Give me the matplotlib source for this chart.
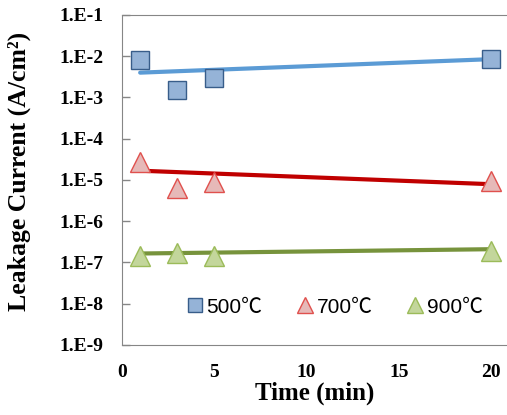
import matplotlib
matplotlib.use("Agg")
import matplotlib.pyplot as plt

t = [1, 3, 5, 20]
i500 = [7.9e-3, 1.5e-3, 2.9e-3, 8.7e-3]
i700 = [2.7e-5, 6.5e-6, 8.7e-6, 9.3e-6]
i900 = [1.45e-7, 1.67e-7, 1.45e-7, 1.9e-7]

# trend line ends (t=1 and t=20)
t_fit = [1, 20]
fit500 = [4.0e-3, 8.5e-3]
fit700 = [1.68e-5, 7.9e-6]
fit900 = [1.65e-7, 2.1e-7]

yticks = [1e-1, 1e-2, 1e-3, 1e-4, 1e-5, 1e-6, 1e-7, 1e-8, 1e-9]
ylabels = ["1.E-1", "1.E-2", "1.E-3", "1.E-4", "1.E-5", "1.E-6", "1.E-7", "1.E-8", "1.E-9"]
xticks = [0, 5, 10, 15, 20]

fig = plt.figure(figsize=(5.07, 4.15), dpi=100)
ax = fig.add_axes([0.24, 0.1687, 0.76, 0.7952])

ax.semilogy(t_fit, fit500, color="#5B9BD5", lw=3, solid_capstyle="round", zorder=2)
ax.semilogy(t_fit, fit700, color="#C00000", lw=3, solid_capstyle="round", zorder=2)
ax.semilogy(t_fit, fit900, color="#77933C", lw=3, solid_capstyle="round", zorder=2)

ax.plot(t, i500, ls="none", marker="s", ms=13.5, mfc="#95B3D7", mec="#385D8A", mew=1, label="500℃", zorder=3)
ax.plot(t, i700, ls="none", marker="^", ms=15, mfc="#E6B9B8", mec="#E0504D", mew=1, label="700℃", zorder=3)
ax.plot(t, i900, ls="none", marker="^", ms=15, mfc="#C3D69B", mec="#9BBB59", mew=1, label="900℃", zorder=3)

ax.set_ylim(1e-9, 1e-1)
ax.set_xlim(0, 20.85)
ax.set_yticks(yticks)
ax.set_yticklabels(ylabels)
ax.minorticks_off()
ax.set_xticks(xticks)

serif = {"family": "Liberation Serif", "weight": "bold"}
for lab in ax.get_yticklabels() + ax.get_xticklabels():
    lab.set_fontfamily("Liberation Serif")
    lab.set_fontweight("bold")
    lab.set_fontsize(14)

ax.tick_params(axis="y", direction="in", length=6, width=1, color="#868686", pad=13)
ax.tick_params(axis="x", length=0, pad=14)

for s in ["left", "bottom", "top"]:
    ax.spines[s].set_color("#868686")
ax.spines["right"].set_visible(False)

ax.set_xlabel("Time (min)", fontdict=serif, fontsize=18, labelpad=0)
ax.set_ylabel("Leakage Current (A/cm²)", fontdict=serif, fontsize=18.5, labelpad=6)
ax.yaxis.set_label_coords(-0.235, 0.525)

leg = ax.legend(loc="center", bbox_to_anchor=(0.553, 0.115), ncol=3, frameon=False,
                prop={"family": ["Liberation Sans", "Noto Sans CJK SC"], "size": 15},
                handlelength=0.8, handletextpad=0.15, columnspacing=1.65, markerscale=0.75)

fig.savefig("out.png", dpi=100)
